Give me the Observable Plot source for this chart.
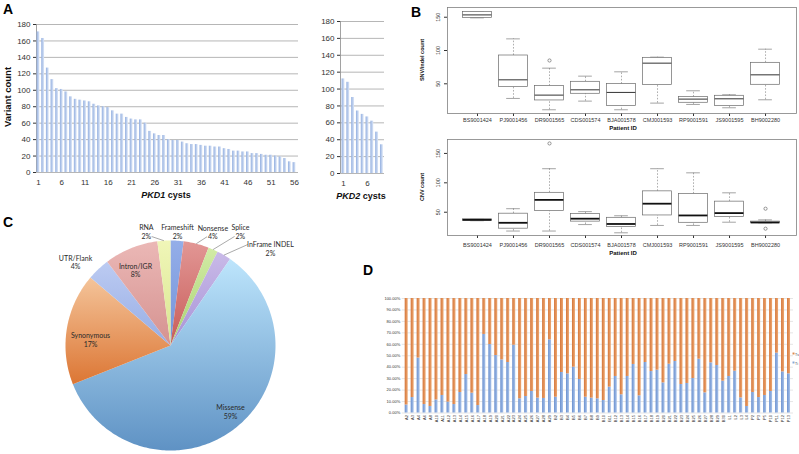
<!DOCTYPE html>
<html><head><meta charset="utf-8">
<script src="https://cdn.jsdelivr.net/npm/d3@7"></script>
<script src="https://cdn.jsdelivr.net/npm/@observablehq/plot@0.6"></script>
<style>
html,body{margin:0;padding:0;background:#fff;}
body{position:relative;width:799px;height:454px;overflow:hidden;font-family:"Liberation Sans",Arial,sans-serif;color:#222;}
.t{position:absolute;white-space:nowrap;line-height:1;}
</style></head><body>
<svg id="defs" width="0" height="0" style="position:absolute;left:0;top:0"><defs id="gradDefs"></defs></svg>
<script>
// ================= DATA =================
// Panel A
const pkd1Cysts = d3.range(1, 57);
const pkd1Counts = [171,163,127,113,102,101,98,92,89,88,87,86,83,81,80,79,75,71,71,67,65,64,64,60,50,47,45,45,40,39,39,37,35,34,34,33,32,32,31,31,29,28,26,26,25,25,23,23,22,21,21,20,19,17,13,12];
const pkd1TickLabels = [1,6,11,16,21,26,31,36,41,46,51,56];
const pkd2Cysts = d3.range(1, 10);
const pkd2Counts = [112,108,90,74,70,67,62,49,34];
const pkd2TickLabels = [1,6];
const countTicks = [0,20,40,60,80,100,120,140,160,180];

// Panel B
const patients = ["BS9001424","PJ9001456","DR9001565","CDS001574","BJA001578","CMJ001593","RP9001591","JS9001595","BH9002280"];
const snvMin = [149, 28, 11, 24, 11, 21, 19, 14, 26];
const snvQ1  = [149, 45, 25, 35, 16.5, 48, 21.5, 16.5, 48.5];
const snvMed = [153.5, 56, 33, 41, 37, 81, 27, 27.5, 63.5];
const snvQ3  = [158, 92.5, 46.5, 53, 49.5, 89, 30, 32, 81.5];
const snvMax = [158, 117.5, 73.5, 61.5, 68, 90, 39.5, 33.5, 102];
const snvOutlierPatients = ["DR9001565"];
const snvOutlierValues = [85];
const cnvMin = [35.5, 18, 18, 29, 15, 27.5, 27.5, 33, 32];
const cnvQ1  = [35.5, 22, 52, 34, 25, 44.5, 32, 42, 32];
const cnvMed = [37, 32, 71, 39, 30, 64.5, 44.5, 48.5, 32.5];
const cnvQ3  = [38, 47.5, 83, 47, 40.5, 85.5, 81, 68, 34];
const cnvMax = [38, 56, 124, 51, 44, 124, 117, 83, 37];
const cnvOutlierPatients = ["DR9001565","BH9002280","BH9002280"];
const cnvOutlierValues = [167, 56, 22];
const boxTicks = [50, 100, 150];

// Panel C (clockwise from 12 o'clock)
const pieCategories = ["Frameshift","Nonsense","Splice","InFrame INDEL","Missense","Synonymous","UTR/Flank","Intron/IGR","RNA"];
const piePercents = [2.0, 3.9, 1.5, 2.2, 59.4, 17.2, 3.5, 8.3, 2.0];

// Panel D
const dSamples = ["A2","A3","A4","A6","A8","A10","A11","A12","A13","A14","A15","A16","A17","A18","A19","A20","A21","A22","A23","A24","A25","A26","A27","A28","A29",
  "B2","B3","B4","B5","B6","B7","B8","B9","B10","B11","B12","B13","B14","B15","B16","B17","B18","B19","B20","B21","B22","B23","B24","B25","B26","B27","B28","B29","B30",
  "L1","L2","L3","L4","P2","P3","P5","P10","P11","P12","P13"];
const tiPercents = [7,13.5,48,7.4,5.7,11.4,15.3,9.5,7.4,17.9,
  33.6,17.3,6.5,68.6,59.8,50.2,46.4,44.1,59.2,12.4,
  14.4,18.8,13,12.7,63.9,13.8,35.4,34.2,40,29.3,
  13.8,13,12.4,10.9,22.6,31.9,15.9,31.9,42.4,15,
  44.1,36.2,37.4,26.3,42.6,45,24.9,25.8,30.1,47,
  17.6,43.8,41.5,27.8,31.9,36.5,13.2,5.7,17.9,13.5,
  15.3,18.8,52.3,35.9,34.2];
const pctTicks = [0,10,20,30,40,50,60,70,80,90,100];
const dSeries = ["Tv","Ti"];

// ================= STYLE =================
const FONT = "'Liberation Sans', Arial, Helvetica, sans-serif";
const PIEFONT = "Lato, 'Open Sans', sans-serif";
const gradients = {
  gA:  ["#93afe0","#dde7f7","h"],
  gTi: ["#6a90cf","#a9c3ea","h"],
  gTv: ["#d4763a","#eea872","h"],
  gp0: ["#94aee8","#7393da","v"],
  gp1: ["#e29795","#c85c59","v"],
  gp2: ["#d2eba6","#a9d271","v"],
  gp3: ["#c9bae8","#a893d6","v"],
  gp4: ["#bde5fc","#5f92c4","v"],
  gp5: ["#f4c49a","#dc7634","v"],
  gp6: ["#bccbf2","#97ade4","v"],
  gp7: ["#ebb8b6","#d59290","v"],
  gp8: ["#f0f6b8","#d9e590","v"]
};
const defs = document.getElementById("gradDefs");
defs.innerHTML = Object.entries(gradients).map(([id,[c0,c1,dir]]) =>
  `<linearGradient id="${id}" x1="0" y1="0" x2="${dir==="h"?1:0}" y2="${dir==="h"?0:1}"><stop offset="0" stop-color="${c0}"/><stop offset="1" stop-color="${c1}"/></linearGradient>`).join("");

function put(el, left, top) {
  el.style.position = "absolute"; el.style.left = left + "px"; el.style.top = top + "px";
  document.body.appendChild(el);
}
function addText(html, o) {
  const d = document.createElement("div");
  d.className = "t"; d.innerHTML = html;
  d.style.fontSize = o.size + "px";
  d.style.fontWeight = o.bold ? "bold" : "normal";
  d.style.fontFamily = o.family || FONT;
  d.style.color = o.color || "#111";
  if (o.rotate) {
    d.style.left = o.cx + "px"; d.style.top = o.cy + "px";
    d.style.transform = "translate(-50%,-50%) rotate(-90deg)";
  } else {
    d.style.left = o.x + "px"; d.style.top = (o.base - 0.8465 * o.size) + "px";
    if (o.anchor === "middle") d.style.transform = "translateX(-50%)";
  }
  document.body.appendChild(d);
}
const baseStyle = (fs) => ({background: "none", fontFamily: FONT, fontSize: fs + "px", color: "#333", overflow: "visible"});

// ================= PANEL A =================
const pkd1 = pkd1Cysts.map((c, i) => ({cyst: c, count: pkd1Counts[i]}));
const aX = [0.57, 56.86];
const plotA = Plot.plot({
  width: 310, height: 205, marginLeft: 36, marginRight: 12, marginTop: 24, marginBottom: 33,
  style: baseStyle(8),
  x: {domain: aX, ticks: pkd1TickLabels, tickSize: 0, tickPadding: 7, label: null},
  y: {domain: [0, 180], ticks: countTicks, tickSize: 3, tickPadding: 3, label: null},
  marks: [
    Plot.ruleY(countTicks, {stroke: "#a3a3a3", strokeWidth: 0.8}),
    Plot.ruleX([aX[0]], {stroke: "#8a8a8a", strokeWidth: 0.8}),
    Plot.rect(pkd1, {x1: d => d.cyst - 0.3, x2: d => d.cyst + 0.3, y1: 0, y2: "count", fill: "url(#gA)"})
  ]
});
put(plotA, 0, 0);

const pkd2 = pkd2Cysts.map((c, i) => ({cyst: c, count: pkd2Counts[i]}));
const a2X = [0.375, 9.54];
const plotA2 = Plot.plot({
  width: 100, height: 205, marginLeft: 40, marginRight: 16, marginTop: 21, marginBottom: 32,
  style: baseStyle(8),
  x: {domain: a2X, ticks: pkd2TickLabels, tickSize: 0, tickPadding: 7, label: null},
  y: {domain: [0, 180], ticks: countTicks, tickSize: 3, tickPadding: 3, label: null},
  marks: [
    Plot.ruleY(countTicks, {stroke: "#a3a3a3", strokeWidth: 0.8}),
    Plot.ruleX([a2X[0]], {stroke: "#8a8a8a", strokeWidth: 0.8}),
    Plot.rect(pkd2, {x1: d => d.cyst - 0.3, x2: d => d.cyst + 0.3, y1: 0, y2: "count", fill: "url(#gA)"})
  ]
});
put(plotA2, 300, 0);

addText("A", {x: 3, base: 13.5, size: 14, bold: true, color: "#000"});
addText("Variant count", {rotate: true, cx: 8, cy: 97, size: 9.5, bold: true, color: "#111"});
addText("<i>PKD1</i> cysts", {x: 166, base: 199, size: 9, bold: true, anchor: "middle", color: "#111"});
addText("<i>PKD2</i> cysts", {x: 361, base: 200, size: 9, bold: true, anchor: "middle", color: "#111"});

// ================= PANEL B =================
const bX = [0.167, 9.86];
const pxPerUnitB = 349 / (bX[1] - bX[0]);
function boxRows(mn, q1, md, q3, mx) {
  return patients.map((p, i) => ({i: i + 1, min: mn[i], q1: q1[i], med: md[i], q3: q3[i], max: mx[i]}));
}
function boxPlot({rows, outP, outV, yDomain, height, marginTop, marginBottom, medW, medColor, tickPad}) {
  const outs = outP.map((p, k) => ({i: patients.indexOf(p) + 1, v: outV[k]}));
  return Plot.plot({
    width: 384, height, marginLeft: 32, marginRight: 3, marginTop, marginBottom,
    style: baseStyle(5.5),
    x: {domain: bX, ticks: d3.range(1, patients.length + 1), tickFormat: i => patients[i - 1], tickSize: 3, tickPadding: tickPad, label: null},
    y: {domain: yDomain, ticks: boxTicks, tickFormat: () => "", tickSize: 3, label: null},
    marks: [
      Plot.ruleX(rows, {x: "i", y1: "q3", y2: "max", stroke: "#777", strokeWidth: 0.6, strokeDasharray: "1.6,1.6"}),
      Plot.ruleX(rows, {x: "i", y1: "min", y2: "q1", stroke: "#777", strokeWidth: 0.6, strokeDasharray: "1.6,1.6"}),
      Plot.ruleY(rows, {y: "max", x1: d => d.i - 0.19, x2: d => d.i + 0.19, stroke: "#666", strokeWidth: 0.6}),
      Plot.ruleY(rows, {y: "min", x1: d => d.i - 0.19, x2: d => d.i + 0.19, stroke: "#666", strokeWidth: 0.6}),
      Plot.rect(rows, {x1: d => d.i - 0.4, x2: d => d.i + 0.4, y1: "q1", y2: "q3", fill: "white", stroke: "#6a6a6a", strokeWidth: 0.7}),
      Plot.ruleY(rows, {y: "med", x1: d => d.i - 0.4, x2: d => d.i + 0.4, stroke: medColor, strokeWidth: medW}),
      Plot.dot(outs, {x: "i", y: "v", r: 1.6, stroke: "#555", strokeWidth: 0.6, fill: "none"}),
      Plot.text(boxTicks, {x: bX[0] - 8 / pxPerUnitB, y: d => d, text: d => String(d), rotate: -90, lineAnchor: "bottom", textAnchor: "middle", fontSize: 5.5, fill: "#333"}),
      Plot.frame({stroke: "#808080", strokeWidth: 0.8})
    ]
  });
}
const plotB1 = boxPlot({rows: boxRows(snvMin, snvQ1, snvMed, snvQ3, snvMax), outP: snvOutlierPatients, outV: snvOutlierValues,
  yDomain: [5.4, 164.6], height: 135, marginTop: 7, marginBottom: 22, medW: 1.1, medColor: "#444", tickPad: 2});
put(plotB1, 415, 0);
const plotB2 = boxPlot({rows: boxRows(cnvMin, cnvQ1, cnvMed, cnvQ3, cnvMax), outP: cnvOutlierPatients, outV: cnvOutlierValues,
  yDomain: [10.4, 173.7], height: 120, marginTop: 4, marginBottom: 20, medW: 1.8, medColor: "#111", tickPad: 5});
put(plotB2, 415, 135);

addText("B", {x: 411, base: 17, size: 14, bold: true, color: "#000"});
addText("SNV/indel count", {rotate: true, cx: 423, cy: 60, size: 5.5, bold: true});
addText("CNV count", {rotate: true, cx: 423, cy: 187, size: 5.5, bold: true});
addText("Patient ID", {x: 623, base: 130, size: 6, bold: true, anchor: "middle"});
addText("Patient ID", {x: 623, base: 255, size: 6, bold: true, anchor: "middle"});

// ================= PANEL C =================
const pieTotal = d3.sum(piePercents);
let acc = 0;
const slices = pieCategories.map((c, i) => {
  const a0 = acc / pieTotal * 2 * Math.PI; acc += piePercents[i];
  const a1 = acc / pieTotal * 2 * Math.PI;
  return {c, i, pct: piePercents[i], a0, a1, mid: (a0 + a1) / 2};
});
const slicePoints = slices.map(s => {
  const n = Math.max(3, Math.ceil((s.a1 - s.a0) / (Math.PI / 180)));
  const pts = [{c: s.c, x: 0, y: 0}];
  for (let k = 0; k <= n; k++) {
    const a = s.a0 + (s.a1 - s.a0) * k / n;
    pts.push({c: s.c, x: Math.sin(a), y: Math.cos(a)});
  }
  pts.push({c: s.c, x: 0, y: 0});
  return pts;
});
// label layout: [angle in degrees clockwise from 12 o'clock, radius as fraction of pie radius]
const labelLayout = {
  "Frameshift": [3.5, 1.085], "Nonsense": [20.5, 1.152], "Splice": [31.6, 1.27], "InFrame INDEL": [46, 1.323],
  "Missense": [137.9, 0.853], "Synonymous": [274.3, 0.764], "UTR/Flank": [311.3, 1.204], "Intron/IGR": [335.1, 0.792], "RNA": [348, 1.105]
};
const labelRows = slices.map(s => {
  const [deg, r] = labelLayout[s.c];
  const a = deg * Math.PI / 180;
  return {c: s.c, x: Math.sin(a) * r, y: Math.cos(a) * r, text: s.c + "\n" + Math.round(s.pct) + "%"};
});
const leaderSide = {"RNA": [0.05, -0.043], "Nonsense": [-0.055, -0.043], "Splice": [-0.055, -0.043], "InFrame INDEL": [-0.215, 0.043]};
const leaders = slices.filter(s => leaderSide[s.c]).map(s => {
  const L = labelRows.find(l => l.c === s.c);
  const [ox, oy] = leaderSide[s.c];
  return {x1: Math.sin(s.mid) * 1.0, y1: Math.cos(s.mid) * 1.0, x2: L.x + ox, y2: L.y + oy};
});
const R = 105;
const plotC = Plot.plot({
  width: 365, height: 239, marginLeft: 0, marginRight: 0, marginTop: 0, marginBottom: 0,
  style: {background: "none", fontFamily: PIEFONT, fontSize: "7px", color: "#333", overflow: "visible"},
  x: {domain: [-170 / R, 195 / R], axis: null},
  y: {domain: [-109 / R, 130 / R], axis: null},
  marks: [
    ...slices.map(s => Plot.line(slicePoints[s.i], {x: "x", y: "y", fill: `url(#gp${s.i})`, stroke: "none"})),
    Plot.link(leaders, {x1: "x1", y1: "y1", x2: "x2", y2: "y2", stroke: "#555", strokeWidth: 0.5}),
    Plot.text(labelRows, {x: "x", y: "y", text: "text", fontSize: 7, fontFamily: PIEFONT, fill: "#2a2a2a", lineHeight: 1.25})
  ]
});
put(plotC, 0, 215);
addText("C", {x: 3, base: 227, size: 14, bold: true, color: "#000"});

// ================= PANEL D =================
const dRows = dSamples.map((s, i) => ({sample: s, ti: tiPercents[i]}));
const seriesFill = {Tv: "#dd8a4f", Ti: "#86a7d8"};
const plotD = Plot.plot({
  width: 434, height: 169, marginLeft: 36.7, marginRight: 6, marginTop: 13, marginBottom: 41.5,
  style: baseStyle(4),
  x: {type: "band", domain: dSamples, padding: 0.5, tickSize: 0, tickPadding: 2, tickRotate: -90, label: null},
  y: {domain: [0, 100], ticks: pctTicks, tickFormat: d => d.toFixed(2) + "%", tickSize: 0, tickPadding: 2, label: null},
  marks: [
    Plot.ruleY(pctTicks, {stroke: "#d4d4d4", strokeWidth: 0.6}),
    Plot.barY(dRows, {x: "sample", y1: 0, y2: "ti", fill: "url(#gTi)"}),
    Plot.barY(dRows, {x: "sample", y1: "ti", y2: 100, fill: "url(#gTv)"}),
    ...dSeries.map((s, k) => Plot.dot([s], {frameAnchor: "top-right", dx: 0, dy: 55 + 9 * k, symbol: "square", r: 1.1, fill: seriesFill[s]})),
    ...dSeries.map((s, k) => Plot.text([s], {frameAnchor: "top-right", dx: 1.6, dy: 55 + 9 * k, text: d => d, textAnchor: "start", fontSize: 3.6, fill: "#444"}))
  ]
});
put(plotD, 365, 285);
addText("D", {x: 363, base: 275, size: 14, bold: true, color: "#000"});
</script>
</body></html>
